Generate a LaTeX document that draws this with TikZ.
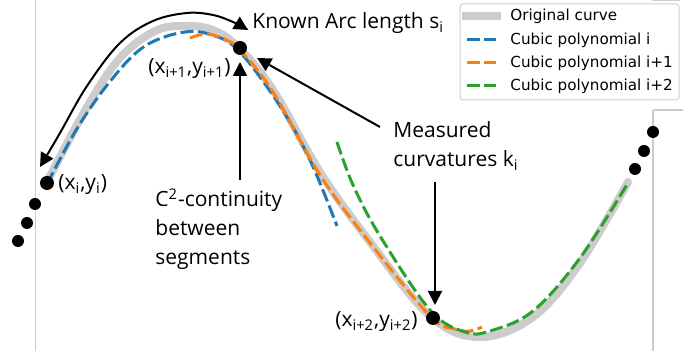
\documentclass[tikz,border=0pt]{standalone}
\usepackage{fontspec}
\setmainfont{Open Sans}
\newfontfamily\legfont{DejaVu Sans}
\usetikzlibrary{arrows.meta}
\definecolor{tabblue}{HTML}{1F77B4}
\definecolor{taborange}{HTML}{FF7F0E}
\definecolor{tabgreen}{HTML}{2CA02C}
\definecolor{curvegray}{HTML}{CCCCCC}
\definecolor{spinegray}{HTML}{CCCCCC}
\begin{document}
\begin{tikzpicture}[x=0.5pt,y=-0.5pt,
  orig/.style={curvegray, line width=4pt},
  poly/.style={line width=1.5pt, dash pattern=on 6.5pt off 2.2pt},
  arr/.style={line width=1pt, -{Triangle[length=7pt,width=7pt]}},
  arrboth/.style={line width=1pt, {Triangle[length=7pt,width=7pt]}-{Triangle[length=7pt,width=7pt]}},
  dot/.style={circle, fill=black, inner sep=0pt, minimum size=7pt},
  sdot/.style={circle, fill=black, inner sep=0pt, minimum size=6pt},
  lab/.style={font=\fontsize{10.5}{14.5}\selectfont, inner sep=0pt},
  legtext/.style={font=\legfont\fontsize{7.6}{9}\selectfont, inner sep=0pt, anchor=west},
  spine/.style={spinegray, line width=0.6pt}]
\useasboundingbox (0,0) rectangle (697,356);
% spines
\draw[spine] (35.5,0) -- (35.5,351);
\draw[spine] (653,110) -- (653,351);
\draw[spine] (653,110) -- (683,110);
\draw[spine] (652,0.6) -- (680,0.6);
% original curve
\draw[orig, line cap=round] plot[smooth, tension=0.6] coordinates {
 (48,180) (87,107) (120,58) (155,31) (185,26) (213,30) (239,48) (273,90)
 (320,172) (367,238) (430,316) (480,337) (533,317) (580,263) (628,182)};
% cubic polynomial i
\draw[poly, tabblue] plot[smooth, tension=0.6] coordinates {
 (47,184) (78,127) (112,79) (145,46) (185,32)
 (215,36) (240,52) (280,106) (310,160) (337,226)};
% cubic polynomial i+1
\draw[poly, taborange] plot[smooth, tension=0.6] coordinates {
 (190,38) (207,34) (226,40) (240,50) (273,92) (320,175)
 (367,239) (430,316) (455,329) (470,331) (482,327)};
% cubic polynomial i+2
\draw[poly, tabgreen] plot[smooth, tension=0.6] coordinates {
 (337,142) (353,185) (380,236) (430,310)
 (465,332) (490,331) (533,311) (580,258) (628,183)};
% points
\node[dot] (pi) at (47,183) {};
\node[dot] (pi1) at (240,48) {};
\node[dot] (pi2) at (433,318) {};
\node[sdot] (l1) at (35,204) {};
\node[sdot] (l2) at (27,223) {};
\node[sdot] (l3) at (18,241) {};
\node[sdot] (r1) at (653,132) {};
\node[sdot] (r2) at (644,151) {};
\node[sdot] (r3) at (635,169) {};
% labels
\node[lab, anchor=base west] (lpi) at (58,190) {(x\textsubscript{i},y\textsubscript{i})};
\node[lab, anchor=base west] (lpi1) at (148,74) {(x\textsubscript{i+1},y\textsubscript{i+1})};
\node[lab, anchor=base west] (lpi2) at (335,327) {(x\textsubscript{i+2},y\textsubscript{i+2})};
\node[lab, anchor=base west] (arc) at (252,29) {Known Arc length s\textsubscript{i}};
\node[lab, anchor=base west, align=left] (cont) at (155,265) {C\textsuperscript{2}-continuity\\between\\segments};
\node[lab, anchor=base west, align=left] (curv) at (393,167) {Measured\\curvatures k\textsubscript{i}};
% arrows
\coordinate (arcA) at (40,167);
\coordinate (arcB) at (248,30);
\draw[arrboth] plot[smooth, tension=0.6] coordinates {
 (arcA) (60,133) (87,86) (120,43) (153,21) (187,13) (213,15) (233,22) (arcB)};
\coordinate (contTop) at (240,180);
\coordinate (contTip) at (240,62);
\draw[arr] (contTop) -- (contTip);
\coordinate (curvA) at (380,127);
\coordinate (curvTip) at (257,58);
\draw[arr] (curvA) -- (curvTip);
\coordinate (curvB) at (435,182);
\coordinate (curvTip2) at (435,305);
\draw[arr] (curvB) -- (curvTip2);
% legend
\draw[gray!35, fill=white, rounded corners=1.5pt, line width=0.5pt] (460,4) rectangle (679,100);
\draw[curvegray, line width=4pt] (462,16) -- (501,16);
\draw[poly, tabblue] (467,40) -- (496,40);
\draw[poly, taborange] (467,63) -- (496,63);
\draw[poly, tabgreen] (467,86) -- (496,86);
\node[legtext] (lg1) at (510,16) {Original curve};
\node[legtext] (lg2) at (510,40) {Cubic polynomial i};
\node[legtext] (lg3) at (510,63) {Cubic polynomial i+1};
\node[legtext] (lg4) at (510,86) {Cubic polynomial i+2};
\end{tikzpicture}
\end{document}
